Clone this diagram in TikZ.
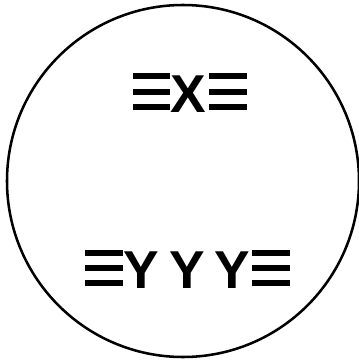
\documentclass[tikz,border=0pt]{standalone}
\usepackage{fontspec}
\setmainfont{Liberation Sans}
\begin{document}
\begin{tikzpicture}[x=0.75pt,y=-0.75pt,
  glyph/.style={anchor=base,inner sep=0pt,font=\fontsize{40}{40}\selectfont\bfseries},
  bar/.style={line width=3.8pt}]
\useasboundingbox (0,0) rectangle (359,360);
\draw[line width=1.9pt] (183,181) circle[radius=132pt];
% top group
\node[glyph] (x) at (188.5,112) {X};
\foreach \yy in {76,92,107}{
  \draw[bar] (133,\yy) -- (170,\yy);
  \draw[bar] (209,\yy) -- (247,\yy);
}
% bottom group
\node[glyph] (y1) at (141,288) {Y};
\node[glyph] (y2) at (187.5,288) {Y};
\node[glyph] (y3) at (232.5,288) {Y};
\foreach \yy in {253,268,283}{
  \draw[bar] (85,\yy) -- (123,\yy);
  \draw[bar] (252,\yy) -- (290,\yy);
}
\end{tikzpicture}
\end{document}
